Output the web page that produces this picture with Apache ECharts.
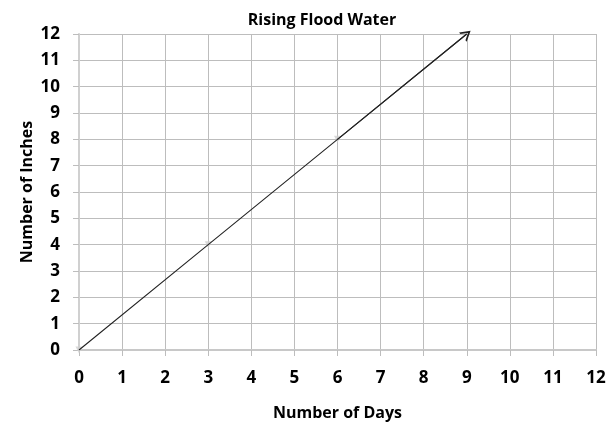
<!DOCTYPE html>
<html><head><meta charset="utf-8">
<script src="https://cdn.jsdelivr.net/npm/echarts@6/dist/echarts.min.js"></script>
<style>html,body{margin:0;padding:0;background:#fff}#c{width:612px;height:424px}</style>
</head><body><div id="c"></div>
<script>
var title = "Rising Flood Water";
var xName = "Number of Days";
var yName = "Number of Inches";
var days = [0, 3, 6, 9];
var inches = [0, 4, 8, 12];
var markedDays = [0, 3, 6];
var markedInches = [0, 4, 8];

var lineData = days.map(function(d, i){ return [d, inches[i]]; });
var pointData = markedDays.map(function(d, i){ return [d, markedInches[i]]; });
var font = '"Open Sans", "Liberation Sans", sans-serif';
var chart = echarts.init(document.getElementById('c'), null, {renderer:'canvas'});
chart.setOption({
  animation:false,
  title:{text:title,left:317,top:7,textAlign:'center',textStyle:{fontFamily:font,fontSize:16,fontWeight:'bold',color:'#000'}},
  grid:{left:79,right:16,top:34,bottom:74,containLabel:false,outerBoundsMode:'none'},
  xAxis:{type:'value',min:0,max:12,interval:1,
    name:xName,nameLocation:'middle',nameGap:55,
    nameTextStyle:{fontFamily:font,fontSize:16,fontWeight:'bold',color:'#000'},
    axisLine:{show:true,lineStyle:{color:'#c8c8c8',width:2}},
    axisTick:{show:true,length:6,lineStyle:{color:'#bdbdbd'}},
    axisLabel:{fontFamily:font,fontSize:17,fontWeight:'bold',color:'#000',margin:20},
    splitLine:{show:true,lineStyle:{color:'#bdbdbd',width:1}}},
  yAxis:{type:'value',min:0,max:12,interval:1,
    name:yName,nameLocation:'middle',nameGap:44,nameMoveOverlap:false,
    nameTextStyle:{fontFamily:font,fontSize:16,fontWeight:'bold',color:'#000'},
    axisLine:{show:true,lineStyle:{color:'#d0d0d0',width:2}},
    axisTick:{show:true,length:6,lineStyle:{color:'#bdbdbd'}},
    axisLabel:{fontFamily:font,fontSize:17,fontWeight:'bold',color:'#000',margin:19},
    splitLine:{show:true,lineStyle:{color:'#bdbdbd',width:1}}},
  series:[
    {type:'scatter',data:pointData,symbol:'triangle',symbolSize:7,symbolRotate:180,
     itemStyle:{color:'#cfcfcf'},z:1},
    {type:'line',data:lineData,showSymbol:false,symbol:'none',
     lineStyle:{color:'#222',width:1.1},z:3,
     markLine:{silent:true,symbol:['none','path://M0,10 L5,0 L10,10 L8.4,10 L5,3.4 L1.6,10 Z'],symbolSize:[12,10],
       label:{show:false},lineStyle:{color:'#222',width:1.1,type:'solid'},
       data:[[{coord:lineData[lineData.length-2]},{coord:lineData[lineData.length-1]}]]}}
  ]
});
</script></body></html>
